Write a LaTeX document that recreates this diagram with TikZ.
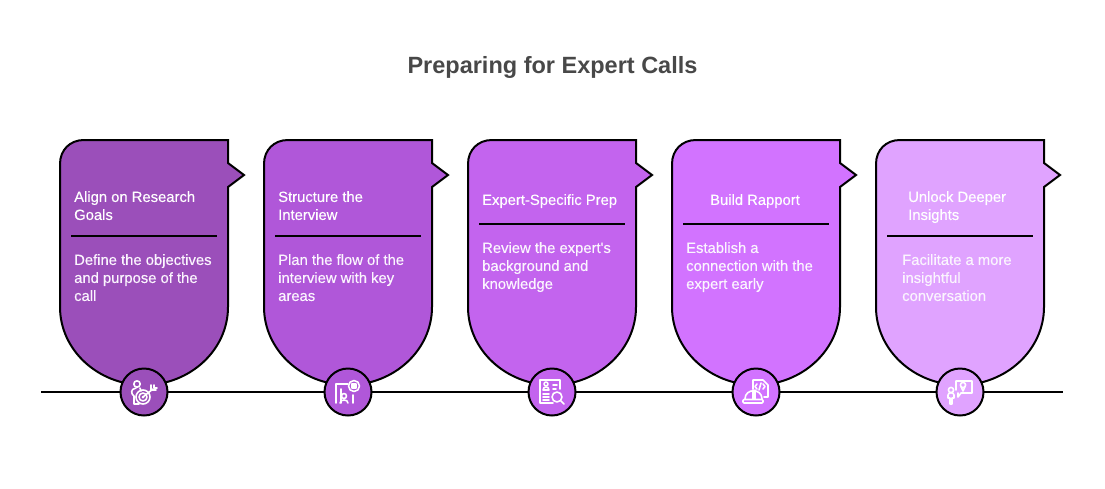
\documentclass[tikz,border=0pt]{standalone}
\usepackage{fontspec}
\setmainfont{Liberation Sans}
\newfontfamily\medfont{Liberation Sans}[FakeBold=0.25]
\definecolor{cardA}{HTML}{9B4FBA}
\definecolor{cardB}{HTML}{B057D9}
\definecolor{cardC}{HTML}{C364EE}
\definecolor{cardD}{HTML}{D273FF}
\definecolor{cardE}{HTML}{E0A3FF}
\definecolor{titlegray}{HTML}{484848}
\definecolor{bodytint}{HTML}{FBF5FE}
\tikzset{
  head/.style={anchor=north west, align=left, inner sep=0pt, text=white, font=\medfont\fontsize{14.8}{18}\selectfont},
  body/.style={anchor=north west, align=left, inner sep=0pt, text=bodytint, font=\medfont\fontsize{14.8}{18}\selectfont},
  badge/.style={circle, draw=black, line width=2pt, minimum size=47pt, inner sep=0pt},
  rule/.style={line width=2pt, draw=black},
  icon/.style={draw=white, line width=1.6pt, line cap=round, line join=round}
}
% card outline, #1 = left edge, #2 = colour
\newcommand{\cardshape}[2]{
  \begin{scope}[shift={(#1,0)}]
    \filldraw[fill=#2, rule] (0,164) .. controls (0,150) and (10,140) .. (24,140) -- (168,140) -- (168,163) -- (184,175) -- (168,187) -- (168,307) .. controls (168,350) and (130,385) .. (84,385) .. controls (38,385) and (0,350) .. (0,307) -- cycle;
  \end{scope}
}
\begin{document}
\begin{tikzpicture}[x=1pt,y=-1pt]
\useasboundingbox (0,0) rectangle (1105,488);

\node[anchor=center, inner sep=0pt, text=titlegray, font=\fontsize{23.5}{28}\selectfont\bfseries] (title) at (552.5,67) {Preparing for Expert Calls};

\cardshape{60}{cardA}
\cardshape{264}{cardB}
\cardshape{468}{cardC}
\cardshape{672}{cardD}
\cardshape{876}{cardE}

% timeline
\coordinate (lineL) at (41,392);
\coordinate (lineR) at (1063,392);
\draw[rule] (lineL) -- (lineR);

\node[badge, fill=cardA] (badgeA) at (144,392) {};
\node[badge, fill=cardB] (badgeB) at (348,392) {};
\node[badge, fill=cardC] (badgeC) at (552,392) {};
\node[badge, fill=cardD] (badgeD) at (756,392) {};
\node[badge, fill=cardE] (badgeE) at (960,392) {};

% headings
\node[head] (headA) at (74,191) {Align on Research\\Goals};
\node[head] (headB) at (278,191) {Structure the\\Interview};
\node[head] (headC) at (482,194) {Expert-Specific Prep};
\node[head, anchor=north] (headD) at (755,194) {Build Rapport};
\node[head] (headE) at (908,191) {Unlock Deeper\\Insights};

\draw[rule] (71,236) -- (217,236);
\draw[rule] (275,236) -- (421,236);
\draw[rule] (479,224) -- (625,224);
\draw[rule] (683,224) -- (829,224);
\draw[rule] (887,236) -- (1033,236);

% descriptions
\node[body] (bodyA) at (74,254) {Define the objectives\\and purpose of the\\call};
\node[body] (bodyB) at (278,254) {Plan the flow of the\\interview with key\\areas};
\node[body] (bodyC) at (482,242) {Review the expert's\\background and\\knowledge};
\node[body] (bodyD) at (686,242) {Establish a\\connection with the\\expert early};
\node[body] (bodyE) at (902,254) {Facilitate a more\\insightful\\conversation};

% icon: person and target
\begin{scope}[shift={(144,392)}, icon]
\draw (-7,-8) circle (3.2);
\draw (-8,-4) .. controls (-14,-3) and (-13,2) .. (-10,4) -- (-10,12) -- (-5,12);
\draw (-4,-4) -- (-3,-1);
\draw (-1,5) circle (7);
\draw (-1,5) circle (4);
\fill[white] (-1,5) circle (1.5);
\draw (-1,5) -- (9,-3);
\draw (7,-7) -- (7,-2) -- (12,-2);
\draw (10,-7) -- (10,-4) -- (13,-4);
\end{scope}

% icon: door, person and badge
\begin{scope}[shift={(348,392)}, icon]
\draw (-12,11) -- (-12,-8) -- (0,-8);
\draw (5,3) -- (5,11);
\draw (-7,11) -- (-7,-3);
\draw (6,-6) circle (5.5);
\draw[fill=white] (4,-8) rectangle (8,-4);
\draw (-4,4) circle (2.5);
\draw (-8,11) .. controls (-8,7) and (0,7) .. (0,11);
\end{scope}

% icon: profile sheet and magnifier
\begin{scope}[shift={(552,392)}, icon]
\draw (1,11) -- (-12,11) -- (-12,-12) -- (8,-12) -- (8,-3);
\draw (-6,-8) circle (2);
\draw (-9,-2) .. controls (-9,-6) and (-3,-6) .. (-3,-2) -- cycle;
\draw (1,-7) -- (5,-7);
\draw (1,-3) -- (4,-3);
\draw (-9,2) -- (-3,2);
\draw (-9,5) -- (-3,5);
\draw (-9,8) -- (-3,8);
\draw (5,5) circle (5);
\draw (9,9) -- (12,12);
\end{scope}

% icon: code sheet and hard hat
\begin{scope}[shift={(756,392)}, icon]
\draw (-3,-3) -- (-3,-12) -- (7,-12) -- (12,-7) -- (12,5) -- (8,5);
\draw (1,-8) -- (-1,-5.5) -- (1,-3);
\draw (7,-8) -- (9,-5.5) -- (7,-3);
\draw (5,-9) -- (3,-2);
\draw (-11,7) .. controls (-11,-4) and (6,-4) .. (6,7);
\draw (-3,7) -- (-3,-2);
\draw (-1,7) -- (-1,-2);
\draw[rounded corners=1pt] (-13,7.5) rectangle (7,11);
\end{scope}

% icon: speaker and bubble
\begin{scope}[shift={(960,392)}, icon]
\draw (-9,-2) circle (2.6);
\draw (-12,3) .. controls (-12,0) and (-6,0) .. (-6,3) -- (-6,6) -- (-8,6) -- (-8,12) -- (-10,12) -- (-10,6) -- (-12,6) -- cycle;
\draw (-4,-2) -- (-4,-11) -- (12,-11) -- (12,1) -- (1,1) -- (-2,5) -- (-2,1);
\draw (3,-7) circle (2.6);
\draw (1,-5.5) -- (3,-1) -- (5,-5.5);
\end{scope}
\end{tikzpicture}
\end{document}
